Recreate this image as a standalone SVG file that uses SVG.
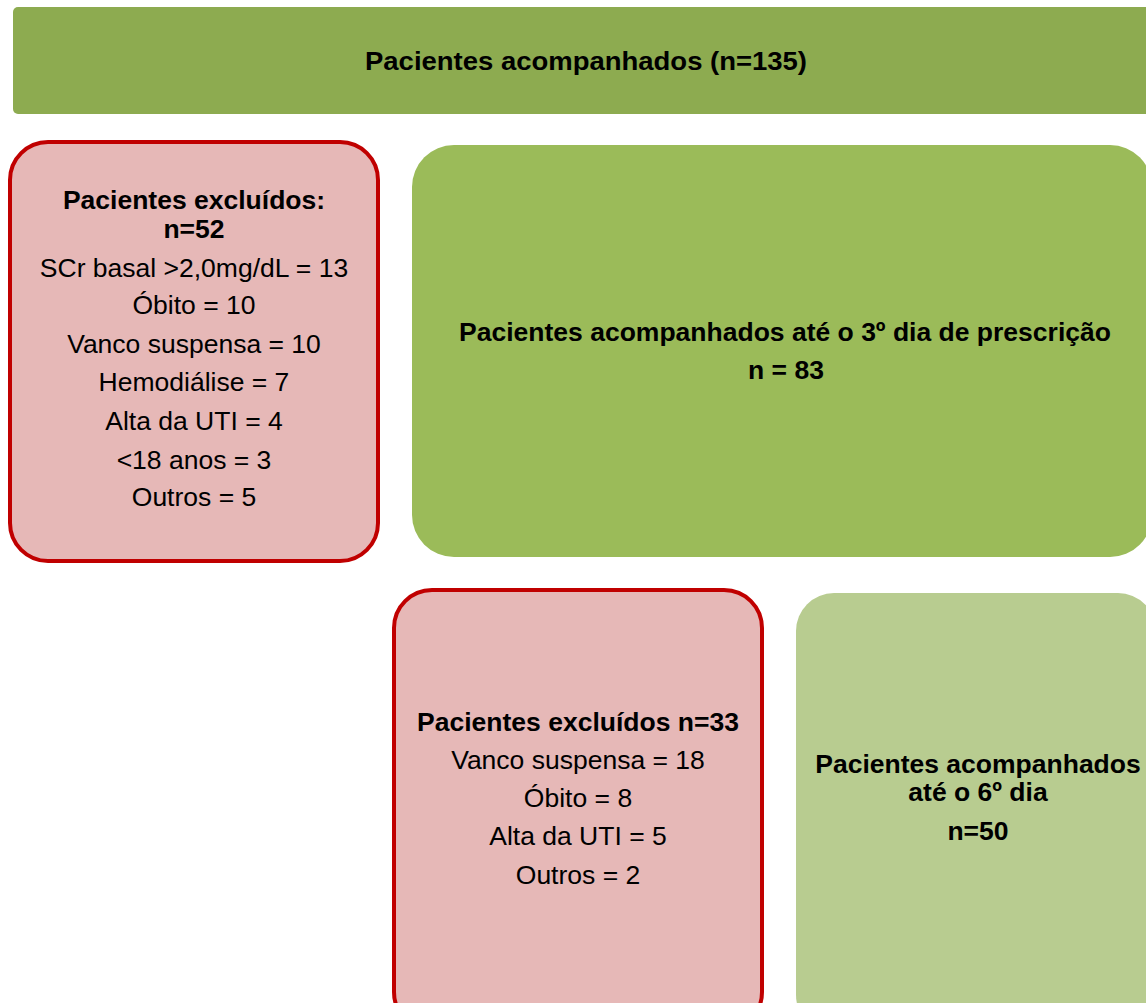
<svg xmlns="http://www.w3.org/2000/svg" width="1146" height="1003" viewBox="0 0 1146 1003">
<style>
  text { font-family: "Liberation Sans", Arial, sans-serif; fill: #000; text-anchor: middle; }
  .b { font-weight: bold; font-size: 26.5px; }
  .r { font-size: 26.5px; }
  .excl { fill: #E6B8B7; stroke: #C00000; stroke-width: 4; }
  .inc { fill: #9BBB59; }
  .inc2 { fill: #B8CC90; }
</style>
<rect width="1146" height="1003" fill="#fff"/>
<g id="node-total">
  <rect x="13" y="7" width="1145" height="107" rx="5" fill="#8DAB50"/>
  <text class="b" x="586" y="70" font-size="26" textLength="442" lengthAdjust="spacingAndGlyphs">Pacientes acompanhados (n=135)</text>
</g>
<g id="node-excl1">
  <rect class="excl" x="10" y="142" width="368" height="419" rx="38"/>
  <text class="b" x="194" y="209">Pacientes excluídos:</text>
  <text class="b" x="194" y="238">n=52</text>
  <text class="r" x="194" y="277">SCr basal &gt;2,0mg/dL = 13</text>
  <text class="r" x="194" y="314">Óbito = 10</text>
  <text class="r" x="194" y="353">Vanco suspensa = 10</text>
  <text class="r" x="194" y="391">Hemodiálise = 7</text>
  <text class="r" x="194" y="430">Alta da UTI = 4</text>
  <text class="r" x="194" y="469">&lt;18 anos = 3</text>
  <text class="r" x="194" y="506">Outros = 5</text>
</g>
<g id="node-day3">
  <rect class="inc" x="412" y="145" width="740" height="412" rx="42"/>
  <text class="b" x="785" y="341">Pacientes acompanhados até o 3º dia de prescrição</text>
  <text class="b" x="786" y="379">n = 83</text>
</g>
<g id="node-excl2">
  <rect class="excl" x="394" y="590" width="368" height="440" rx="38"/>
  <text class="b" x="578" y="731">Pacientes excluídos n=33</text>
  <text class="r" x="578" y="769">Vanco suspensa = 18</text>
  <text class="r" x="578" y="807">Óbito = 8</text>
  <text class="r" x="578" y="845">Alta da UTI = 5</text>
  <text class="r" x="578" y="884">Outros = 2</text>
</g>
<g id="node-day6">
  <rect class="inc2" x="796" y="593" width="360" height="440" rx="38"/>
  <text class="b" x="978" y="773">Pacientes acompanhados</text>
  <text class="b" x="978" y="801">até o 6º dia</text>
  <text class="b" x="978" y="840">n=50</text>
</g>
<g id="connectors"></g>
</svg>
